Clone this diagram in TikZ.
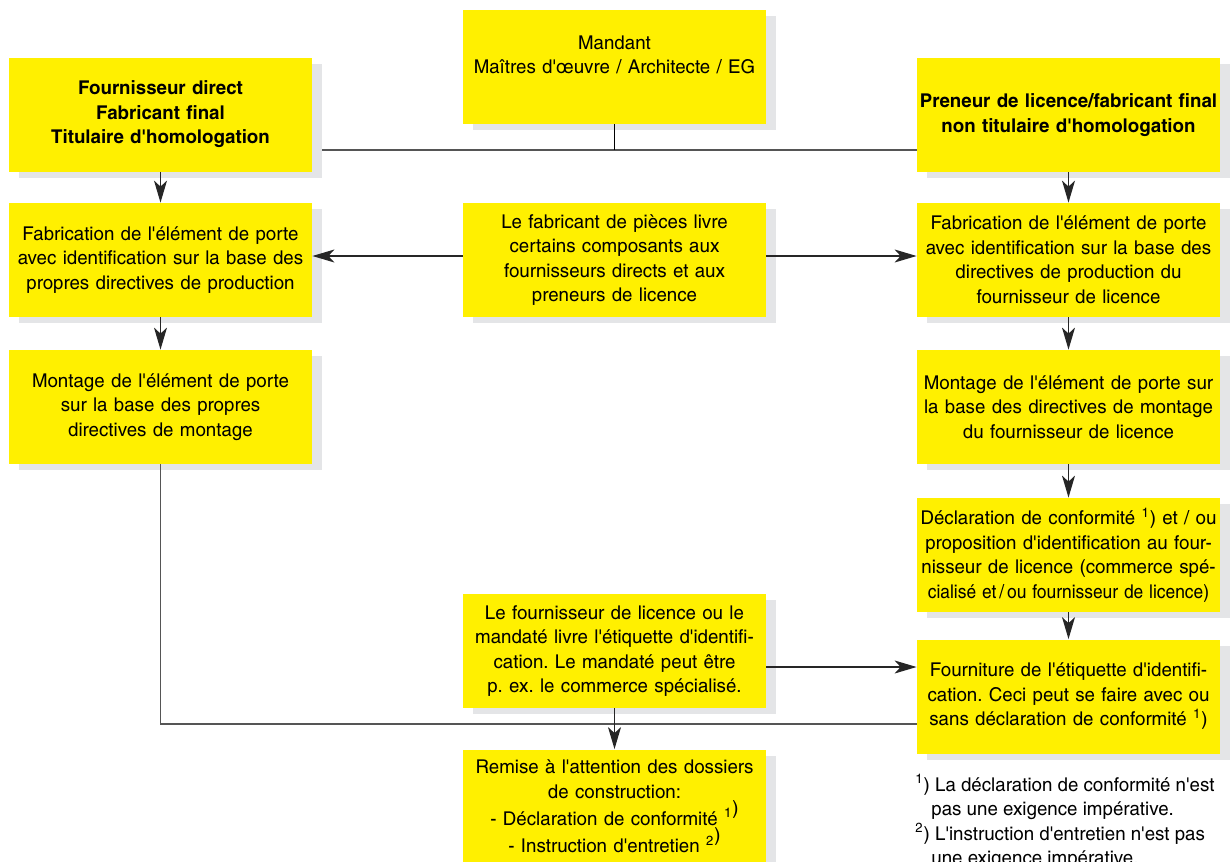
\documentclass[tikz,border=0pt]{standalone}
\usepackage{fontspec}
\setmainfont{texgyreheroscn}[Extension=.otf, UprightFont=*-regular, BoldFont=*-bold, Ligatures=TeXOff, FakeStretch=1.2]
\usetikzlibrary{arrows.meta,shadows,backgrounds}
\frenchspacing

\definecolor{boxyellow}{RGB}{255,240,0}
\definecolor{shadowgray}{RGB}{228,229,231}
\definecolor{linegray}{RGB}{85,85,85}

\tikzset{
  box/.style={fill=boxyellow, text width=149.5pt, minimum height=57pt,
    inner sep=1pt, align=center, font=\fontsize{9.5}{12.25}\selectfont,
    drop shadow={shadow xshift=5pt, shadow yshift=-3pt, fill=shadowgray, opacity=1}},
  boldbox/.style={box, font=\fontsize{9.5}{12.25}\selectfont\bfseries},
  note/.style={align=left, inner sep=0pt, font=\fontsize{9.5}{12.25}\selectfont},
  arr/.style={-{Stealth[length=11pt,width=6.5pt,inset=3pt]}, line width=0.7pt, draw=black!85},
  bus/.style={line width=0.9pt, draw=linegray}
}

\begin{document}
\begin{tikzpicture}[x=0.5pt,y=-0.5pt]

        \clip (0,0) rectangle (1232,862);

        % top row
        \node[boldbox] (forn) at (160.5,114.5)
        {Fournisseur direct\\Fabricant final\\Titulaire d'homologation};
        \node[box] (mandant) at (614.5,67)
        {Mandant\\Maîtres d'œuvre / Architecte / EG\\~};
        \node[boldbox] (preneur) at (1068.5,115)
        {Preneur de licence/fabricant final\\non titulaire d'homologation};

        % fabrication
        \node[box] (fabL) at (160.5,260)
        {Fabrication de l'élément de porte\\avec identification sur la base des\\propres directives de production};
        \node[box] (pieces) at (614.5,260)
        {Le fabricant de pièces livre\\certains composants aux\\fournisseurs directs et aux\\preneurs de licence};
        \node[box] (fabR) at (1068.5,260)
        {Fabrication de l'élément de porte\\avec identification sur la base des\\directives de production du\\fournisseur de licence};

        % montage
        \node[box] (montL) at (160.5,407)
        {Montage de l'élément de porte\\sur la base des propres\\directives de montage};
        \node[box] (montR) at (1068.5,407)
        {Montage de l'élément de porte sur\\la base des directives de montage\\du fournisseur de licence};

        \node[box] (decl) at (1068.5,555)
        {Déclaration de conformité \textsuperscript{1}) et / ou\\proposition d'identification au four-\\nisseur de licence (commerce spé-\\\scalebox{0.93}[1]{cialisé et\,/\,ou fournisseur de licence)}};
        \node[box] (fourn) at (1068.5,696.5)
        {Fourniture de l'étiquette d'identifi-\\cation. Ceci peut se faire avec ou\\sans déclaration de conformité \textsuperscript{1})};

        \node[box] (livre) at (614.5,651)
        {Le fournisseur de licence ou le\\mandaté livre l'étiquette d'identifi-\\cation. Le mandaté peut être\\p. ex. le commerce spécialisé.};
        \node[box] (remise) at (614.5,806.5)
        {Remise à l'attention des dossiers\\de construction:\\- Déclaration de conformité \textsuperscript{1}\raisebox{1.1ex}{)}\\- Instruction d'entretien \textsuperscript{2}\raisebox{1.1ex}{)}};

        \node[note, anchor=north west] (notes) at (915,774)
        {\textsuperscript{1}) La déclaration de conformité n'est\\
        \hspace*{8pt}pas une exigence impérative.\\
        \textsuperscript{2}) L'instruction d'entretien n'est pas\\
        \hspace*{8pt}une exigence impérative.};

        % #######################################

        \coordinate (top) at (614.5,150);
        \coordinate (low) at (614.5,724);

        \begin{scope}[on background layer]
        \draw[bus] (top -| forn.east) -- (top -| preneur.west);
        \end{scope}
        \draw[line width=0.7pt] (mandant) -- (top);

        \draw[arr] (forn) -- (fabL);
        \draw[arr] (fabL) -- (montL);
        \draw[arr] (preneur) -- (fabR);
        \draw[arr] (fabR) -- (montR);
        \draw[arr] (montR) -- (decl);
        \draw[arr] (decl) -- (fourn);

        \draw[arr] ([yshift=2pt]pieces.west) -- ([yshift=2pt]fabL.east);
        \draw[arr] ([yshift=2pt]pieces.east) -- ([yshift=2pt]fabR.west);

        \draw[arr] ([yshift=-8pt]livre.east) -- ([yshift=-8pt]livre.east -| fourn.west);
        \draw[bus] (montL) |- (low) -- (low -| fourn.west);
        \draw[arr] (livre) -- (remise);

    \end{tikzpicture}
\end{document}
